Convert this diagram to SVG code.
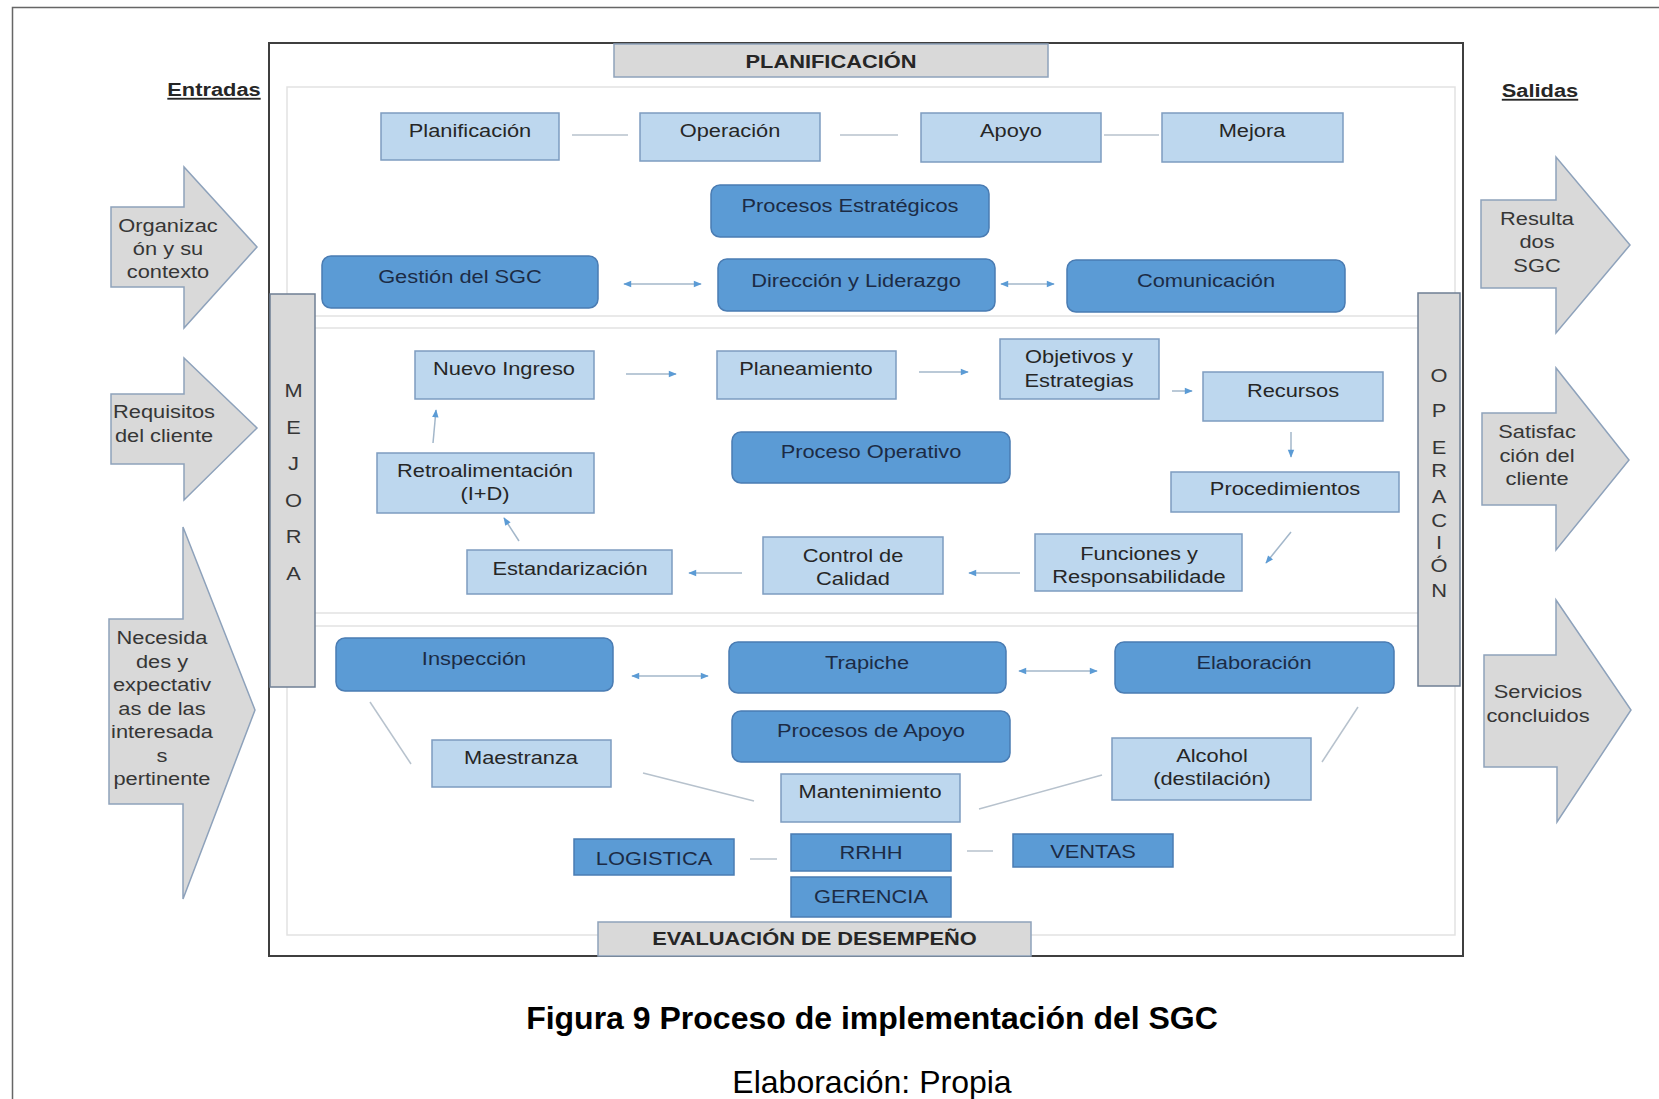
<svg xmlns="http://www.w3.org/2000/svg" width="1659" height="1099" viewBox="0 0 1659 1099">
<defs>
<style>
text{font-family:"Liberation Sans",Arial,Helvetica,sans-serif;}
.t{font-size:18.5px;text-anchor:middle;fill:#262626}
.td{font-size:18.5px;text-anchor:middle;fill:#1c2b45}
.ta{font-size:18.5px;text-anchor:middle;fill:#363636}
.b{font-weight:bold}
.u{text-decoration:underline}
.lb{fill:#bdd7ee;stroke:#7d9cc0;stroke-width:1.5}
.db{fill:#5b9bd5;stroke:#4a7cb3;stroke-width:1.5}
.tab{fill:#d9d9d9;stroke:#8ea2bb;stroke-width:1.5}
.bar{fill:#d9d9d9;stroke:#6f7f94;stroke-width:1.5}
.io{fill:#d9d9d9;stroke:#8ea2bb;stroke-width:1.5}
.sec{fill:none;stroke:#e2e2e2;stroke-width:1.5}
.ln{stroke:#b7c2cd;stroke-width:1.5;fill:none}
.ar{stroke:#a3b7ca;stroke-width:1.5;fill:none;marker-end:url(#ah)}
.ar2{stroke:#a3b7ca;stroke-width:1.5;fill:none;marker-start:url(#ah);marker-end:url(#ah)}
.cap{font-size:32px;text-anchor:middle;fill:#000}
</style>
<marker id="ah" viewBox="0 0 10 10" refX="9" refY="5" markerWidth="9" markerHeight="8" markerUnits="userSpaceOnUse" orient="auto-start-reverse">
<path d="M0,1 L10,5 L0,9 z" fill="#5b9bd5"/>
</marker>
</defs>

<rect width="1659" height="1099" fill="#ffffff"/>
<!-- page frame -->
<rect x="12.5" y="7.5" width="1700" height="1200" fill="none" stroke="#666" stroke-width="1.5"/>

<!-- main frame and section panels -->
<g id="frame">
<rect x="269" y="43" width="1194" height="913" fill="none" stroke="#3f3f3f" stroke-width="2"/>
<rect class="sec" x="287" y="87" width="1168" height="229"/>
<rect class="sec" x="287" y="328" width="1168" height="285"/>
<rect class="sec" x="287" y="626" width="1168" height="309"/>
</g>

<!-- side bars -->
<g id="mejora">
<rect class="bar" x="270" y="294" width="45" height="393"/>
<text class="ta" transform="translate(293.5 0) scale(1.18 1)"><tspan x="0" y="397">M</tspan><tspan x="0" y="434">E</tspan><tspan x="0" y="470">J</tspan><tspan x="0" y="507">O</tspan><tspan x="0" y="543">R</tspan><tspan x="0" y="580">A</tspan></text>
</g>
<g id="operacion">
<rect class="bar" x="1418" y="293" width="42" height="393"/>
<text class="ta" transform="translate(1439 0) scale(1.18 1)"><tspan x="0" y="382">O</tspan><tspan x="0" y="417">P</tspan><tspan x="0" y="454">E</tspan><tspan x="0" y="477">R</tspan><tspan x="0" y="503">A</tspan><tspan x="0" y="527">C</tspan><tspan x="0" y="549">I</tspan><tspan x="0" y="572">Ó</tspan><tspan x="0" y="597">N</tspan></text>
</g>

<!-- header / footer tabs -->
<g id="tab-planificacion">
<rect class="tab" x="614" y="44" width="434" height="33"/>
<text class="t b" transform="translate(831 0) scale(1.18 1)" y="68">PLANIFICACIÓN</text>
</g>
<g id="tab-evaluacion">
<rect class="tab" x="598" y="922" width="433" height="34"/>
<text class="t b" transform="translate(814.5 0) scale(1.18 1)" y="945">EVALUACIÓN DE DESEMPEÑO</text>
</g>

<!-- inputs -->
<g id="entradas">
<text class="t b u" transform="translate(214 0) scale(1.18 1)" y="96">Entradas</text>
</g>
<g id="in-organizacion">
<path class="io" d="M111,207 L184,207 L184,167 L257,247 L184,328 L184,287 L111,287 Z"/>
<text class="ta" transform="translate(168 0) scale(1.18 1)"><tspan x="0" y="232">Organizac</tspan><tspan x="0" y="255">ón y su</tspan><tspan x="0" y="278">contexto</tspan></text>
</g>
<g id="in-requisitos">
<path class="io" d="M111,394 L184,394 L184,358 L257,428 L184,500 L184,464 L111,464 Z"/>
<text class="ta" transform="translate(164 0) scale(1.18 1)"><tspan x="0" y="418">Requisitos</tspan><tspan x="0" y="442">del cliente</tspan></text>
</g>
<g id="in-necesidades">
<path class="io" d="M109,619 L183,619 L183,527 L255,710 L183,899 L183,804 L109,804 Z"/>
<text class="ta" transform="translate(162 0) scale(1.18 1)"><tspan x="0" y="644">Necesida</tspan><tspan x="0" y="668">des y</tspan><tspan x="0" y="691">expectativ</tspan><tspan x="0" y="715">as de las</tspan><tspan x="0" y="738">interesada</tspan><tspan x="0" y="762">s</tspan><tspan x="0" y="785">pertinente</tspan></text>
</g>

<!-- outputs -->
<g id="salidas">
<text class="t b u" transform="translate(1540 0) scale(1.18 1)" y="97">Salidas</text>
</g>
<g id="out-resultados">
<path class="io" d="M1481,200 L1556,200 L1556,157 L1630,245 L1556,333 L1556,288 L1481,288 Z"/>
<text class="ta" transform="translate(1537 0) scale(1.18 1)"><tspan x="0" y="225">Resulta</tspan><tspan x="0" y="248">dos</tspan><tspan x="0" y="272">SGC</tspan></text>
</g>
<g id="out-satisfaccion">
<path class="io" d="M1482,413 L1556,413 L1556,368 L1629,460 L1556,550 L1556,505 L1482,505 Z"/>
<text class="ta" transform="translate(1537 0) scale(1.18 1)"><tspan x="0" y="438">Satisfac</tspan><tspan x="0" y="462">ción del</tspan><tspan x="0" y="485">cliente</tspan></text>
</g>
<g id="out-servicios">
<path class="io" d="M1484,655 L1556,655 L1556,600 L1631,710 L1557,822 L1557,767 L1484,767 Z"/>
<text class="ta" transform="translate(1538 0) scale(1.18 1)"><tspan x="0" y="698">Servicios</tspan><tspan x="0" y="722">concluidos</tspan></text>
</g>

<!-- connectors -->
<g id="connectors">
<line class="ln" x1="572" y1="135" x2="628" y2="135"/>
<line class="ln" x1="840" y1="135" x2="898" y2="135"/>
<line class="ln" x1="1104" y1="135" x2="1159" y2="135"/>
<line class="ar2" x1="624" y1="284" x2="701" y2="284"/>
<line class="ar2" x1="1001" y1="284" x2="1054" y2="284"/>
<line class="ar" x1="626" y1="374" x2="676" y2="374"/>
<line class="ar" x1="919" y1="372" x2="968" y2="372"/>
<line class="ar" x1="1172" y1="391" x2="1192" y2="391"/>
<line class="ar" x1="1291" y1="432" x2="1291" y2="457"/>
<line class="ar" x1="1291" y1="532" x2="1266" y2="563"/>
<line class="ar" x1="1020" y1="573" x2="969" y2="573"/>
<line class="ar" x1="742" y1="573" x2="689" y2="573"/>
<line class="ar" x1="519" y1="541" x2="504" y2="518"/>
<line class="ar" x1="433" y1="443" x2="436" y2="410"/>
<line class="ar2" x1="632" y1="676" x2="708" y2="676"/>
<line class="ar2" x1="1019" y1="671" x2="1097" y2="671"/>
<line class="ln" x1="370" y1="702" x2="411" y2="764"/>
<line class="ln" x1="643" y1="773" x2="754" y2="801"/>
<line class="ln" x1="979" y1="809" x2="1102" y2="775"/>
<line class="ln" x1="1322" y1="762" x2="1358" y2="707"/>
<line class="ln" x1="750" y1="859" x2="777" y2="859"/>
<line class="ln" x1="967" y1="851" x2="993" y2="851"/>
</g>

<!-- strategic processes -->
<g id="n-planificacion"><rect class="lb" x="381" y="113" width="178" height="47"/><text class="t" transform="translate(470 0) scale(1.18 1)" y="137">Planificación</text></g>
<g id="n-operacion"><rect class="lb" x="640" y="113" width="180" height="48"/><text class="t" transform="translate(730 0) scale(1.18 1)" y="137">Operación</text></g>
<g id="n-apoyo"><rect class="lb" x="921" y="113" width="180" height="49"/><text class="t" transform="translate(1011 0) scale(1.18 1)" y="137">Apoyo</text></g>
<g id="n-mejora"><rect class="lb" x="1162" y="113" width="181" height="49"/><text class="t" transform="translate(1252 0) scale(1.18 1)" y="137">Mejora</text></g>
<g id="n-procesos-estrategicos"><rect class="db" x="711" y="185" width="278" height="52" rx="9"/><text class="td" transform="translate(850 0) scale(1.18 1)" y="212">Procesos Estratégicos</text></g>
<g id="n-gestion"><rect class="db" x="322" y="256" width="276" height="52" rx="9"/><text class="td" transform="translate(460 0) scale(1.18 1)" y="283">Gestión del SGC</text></g>
<g id="n-direccion"><rect class="db" x="718" y="259" width="277" height="52" rx="9"/><text class="td" transform="translate(856 0) scale(1.18 1)" y="287">Dirección y Liderazgo</text></g>
<g id="n-comunicacion"><rect class="db" x="1067" y="260" width="278" height="52" rx="9"/><text class="td" transform="translate(1206 0) scale(1.18 1)" y="287">Comunicación</text></g>

<!-- operative process -->
<g id="n-nuevo-ingreso"><rect class="lb" x="415" y="351" width="179" height="48"/><text class="t" transform="translate(504 0) scale(1.18 1)" y="375">Nuevo Ingreso</text></g>
<g id="n-planeamiento"><rect class="lb" x="717" y="351" width="179" height="48"/><text class="t" transform="translate(806 0) scale(1.18 1)" y="375">Planeamiento</text></g>
<g id="n-objetivos"><rect class="lb" x="1000" y="339" width="159" height="60"/><text class="t" transform="translate(1079 0) scale(1.18 1)"><tspan x="0" y="363">Objetivos y</tspan><tspan x="0" y="387">Estrategias</tspan></text></g>
<g id="n-recursos"><rect class="lb" x="1203" y="372" width="180" height="49"/><text class="t" transform="translate(1293 0) scale(1.18 1)" y="397">Recursos</text></g>
<g id="n-proceso-operativo"><rect class="db" x="732" y="432" width="278" height="51" rx="9"/><text class="td" transform="translate(871 0) scale(1.18 1)" y="458">Proceso Operativo</text></g>
<g id="n-procedimientos"><rect class="lb" x="1171" y="472" width="228" height="40"/><text class="t" transform="translate(1285 0) scale(1.18 1)" y="495">Procedimientos</text></g>
<g id="n-retroalimentacion"><rect class="lb" x="377" y="453" width="217" height="60"/><text class="t" transform="translate(485 0) scale(1.18 1)"><tspan x="0" y="477">Retroalimentación</tspan><tspan x="0" y="500">(I+D)</tspan></text></g>
<g id="n-estandarizacion"><rect class="lb" x="467" y="550" width="205" height="44"/><text class="t" transform="translate(570 0) scale(1.18 1)" y="575">Estandarización</text></g>
<g id="n-control"><rect class="lb" x="763" y="537" width="180" height="57"/><text class="t" transform="translate(853 0) scale(1.18 1)"><tspan x="0" y="562">Control de</tspan><tspan x="0" y="585">Calidad</tspan></text></g>
<g id="n-funciones"><rect class="lb" x="1035" y="534" width="207" height="57"/><text class="t" transform="translate(1139 0) scale(1.18 1)"><tspan x="0" y="560">Funciones y</tspan><tspan x="0" y="583">Responsabilidade</tspan></text></g>

<!-- support processes -->
<g id="n-inspeccion"><rect class="db" x="336" y="638" width="277" height="53" rx="9"/><text class="td" transform="translate(474 0) scale(1.18 1)" y="665">Inspección</text></g>
<g id="n-trapiche"><rect class="db" x="729" y="642" width="277" height="51" rx="9"/><text class="td" transform="translate(867 0) scale(1.18 1)" y="669">Trapiche</text></g>
<g id="n-elaboracion"><rect class="db" x="1115" y="642" width="279" height="51" rx="9"/><text class="td" transform="translate(1254 0) scale(1.18 1)" y="669">Elaboración</text></g>
<g id="n-procesos-apoyo"><rect class="db" x="732" y="711" width="278" height="51" rx="9"/><text class="td" transform="translate(871 0) scale(1.18 1)" y="737">Procesos de Apoyo</text></g>
<g id="n-maestranza"><rect class="lb" x="432" y="740" width="179" height="47"/><text class="t" transform="translate(521 0) scale(1.18 1)" y="764">Maestranza</text></g>
<g id="n-mantenimiento"><rect class="lb" x="781" y="774" width="179" height="48"/><text class="t" transform="translate(870 0) scale(1.18 1)" y="798">Mantenimiento</text></g>
<g id="n-alcohol"><rect class="lb" x="1112" y="738" width="199" height="62"/><text class="t" transform="translate(1212 0) scale(1.18 1)"><tspan x="0" y="762">Alcohol</tspan><tspan x="0" y="785">(destilación)</tspan></text></g>
<g id="n-logistica"><rect class="db" x="574" y="839" width="160" height="36"/><text class="td" transform="translate(654 0) scale(1.18 1)" y="865">LOGISTICA</text></g>
<g id="n-rrhh"><rect class="db" x="791" y="834" width="160" height="37"/><text class="td" transform="translate(871 0) scale(1.18 1)" y="859">RRHH</text></g>
<g id="n-gerencia"><rect class="db" x="791" y="877" width="160" height="40"/><text class="td" transform="translate(871 0) scale(1.18 1)" y="903">GERENCIA</text></g>
<g id="n-ventas"><rect class="db" x="1013" y="834" width="160" height="33"/><text class="td" transform="translate(1093 0) scale(1.18 1)" y="858">VENTAS</text></g>

<!-- caption -->
<text class="cap b" x="872" y="1029">Figura 9 Proceso de implementación del SGC</text>
<text class="cap" x="872" y="1093">Elaboración: Propia</text>
</svg>
